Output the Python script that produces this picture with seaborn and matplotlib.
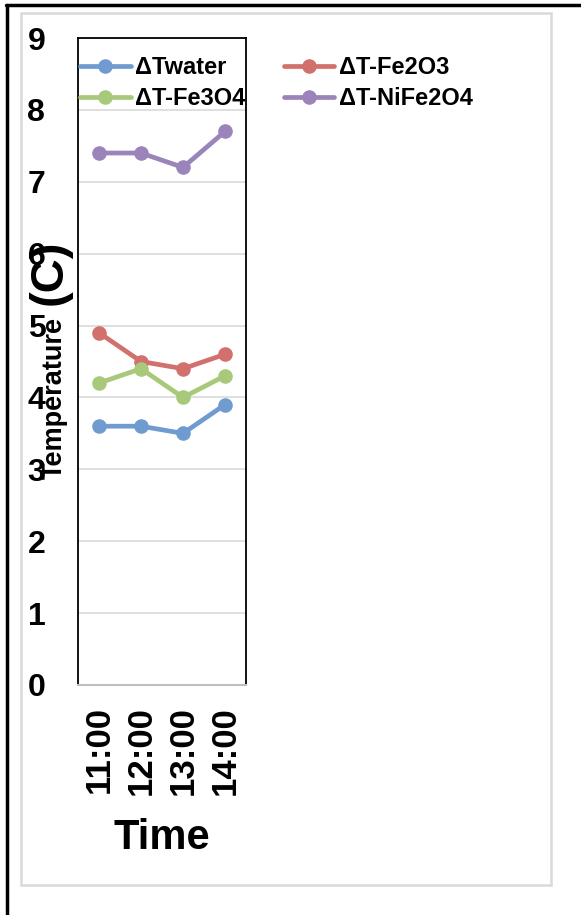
import matplotlib
matplotlib.use("Agg")
import matplotlib.pyplot as plt
from matplotlib.lines import Line2D
from matplotlib.patches import Rectangle
import seaborn as sns
import pandas as pd

# Temperature rise readings per hour
times = ["11:00", "12:00", "13:00", "14:00"]
series_names = ["ΔTwater", "ΔT-Fe2O3", "ΔT-Fe3O4", "ΔT-NiFe2O4"]
t_water = [3.6, 3.6, 3.5, 3.9]
t_fe2o3 = [4.9, 4.5, 4.4, 4.6]
t_fe3o4 = [4.2, 4.4, 4.0, 4.3]
t_nife2o4 = [7.4, 7.4, 7.2, 7.7]
y_ticks = [0, 1, 2, 3, 4, 5, 6, 7, 8, 9]

colors = {
    "ΔTwater": "#6F9BD1",
    "ΔT-Fe2O3": "#D2706E",
    "ΔT-Fe3O4": "#A9C97A",
    "ΔT-NiFe2O4": "#9B84BA",
}

rows = []
for name, vals in zip(series_names, [t_water, t_fe2o3, t_fe3o4, t_nife2o4]):
    for t, v in zip(times, vals):
        rows.append({"Time": t, "value": v, "series": name})
df = pd.DataFrame(rows)

sns.set_theme(style="white")
plt.rcParams["font.family"] = ["Liberation Sans", "DejaVu Sans"]
plt.rcParams["font.weight"] = "bold"
plt.rcParams["text.color"] = "black"
plt.rcParams["axes.labelcolor"] = "black"
plt.rcParams["xtick.color"] = "black"
plt.rcParams["ytick.color"] = "black"

W, H = 581, 915
fig = plt.figure(figsize=(W / 100, H / 100), dpi=100)
fig.patch.set_facecolor("white")

# outer frame lines and light inner border
fig.add_artist(Line2D([6 / W, 1.0], [1 - 5 / H, 1 - 5 / H], color="black", lw=2.5))
fig.add_artist(Line2D([7 / W, 7 / W], [0, 1 - 5 / H], color="black", lw=2.5))
fig.add_artist(Rectangle((21 / W, 1 - 885 / H), (551 - 21) / W, (885 - 13) / H,
                         fill=False, edgecolor="#D9D9D9", lw=1.8))

ax = fig.add_axes([78 / W, 1 - 685 / H, (246 - 78) / W, (685 - 38) / H])
sns.lineplot(data=df, x="Time", y="value", hue="series", palette=colors,
             hue_order=series_names, marker="o", markersize=10.5,
             markeredgewidth=0, linewidth=3.4, legend=False, ax=ax, sort=False)

ax.set_xlim(-0.5, 3.5)
ax.set_ylim(0, 9)
ax.set_yticks(y_ticks)
ax.set_yticklabels([str(v) for v in y_ticks], fontsize=23, fontweight="bold",
                   color="black")
ax.set_xticks(range(len(times)))
ax.set_xticklabels(times, rotation=90, fontsize=25, fontweight="bold", color="black")
ax.tick_params(axis="y", length=0, pad=23.5)
ax.tick_params(axis="x", length=0, pad=15)
ax.yaxis.grid(True, color="#D9D9D9", lw=1.2)
ax.set_axisbelow(True)
for side in ["left", "right", "top"]:
    ax.spines[side].set_color("black")
    ax.spines[side].set_linewidth(1.3)
ax.spines["bottom"].set_color("#BFBFBF")
ax.spines["bottom"].set_linewidth(1.5)
ax.set_ylabel("")
ax.set_xlabel("Time", fontsize=30, fontweight="bold", labelpad=17, color="black")

# y-axis title drawn in two sizes
fig.text(55 / W, 1 - 398 / H, "Temperature", rotation=90, ha="center", va="center",
         fontsize=19.5, fontweight="bold", color="black")
fig.text(50 / W, 1 - 272 / H, "(C)", rotation=90, ha="center", va="center",
         fontsize=34, fontweight="bold", color="black")

handle_order = ["ΔTwater", "ΔT-Fe3O4", "ΔT-Fe2O3", "ΔT-NiFe2O4"]
handles = [Line2D([], [], color=colors[n], lw=3.4, marker="o", markersize=10.5,
                  markeredgewidth=0) for n in handle_order]
leg = fig.legend(handles, handle_order, loc="upper left", ncol=2,
                 bbox_to_anchor=(80 / W, 1 - 56 / H), frameon=False,
                 prop={"size": 17, "weight": "bold"}, handlelength=2.15,
                 handletextpad=0.2, columnspacing=1.6, labelspacing=0.33,
                 borderpad=0, borderaxespad=0)
for t in leg.get_texts():
    t.set_color("black")

fig.savefig("out.png", dpi=100)
